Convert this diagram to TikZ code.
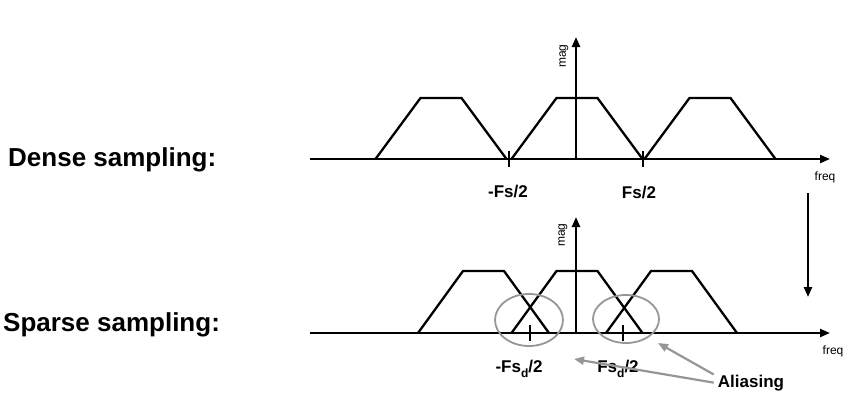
\documentclass[tikz,border=0pt]{standalone}
\usepackage{fontspec}
\setmainfont{Liberation Sans}
\usepackage{xcolor}
\usetikzlibrary{arrows.meta}
\definecolor{ringgray}{RGB}{150,150,150}
\newcommand{\dsub}{\raisebox{-0.3em}{\fontsize{12}{12}\selectfont d}}
\tikzset{
  axisline/.style={line width=2.3pt,-{Triangle[length=10pt,width=8pt]}},
  specline/.style={line width=2.3pt,line join=round},
  tickline/.style={line width=2.6pt},
  ring/.style={draw=ringgray,line width=1.8pt},
  aliasarrow/.style={draw=ringgray,line width=2.2pt,-{Triangle[length=10pt,width=8pt]}},
  biglabel/.style={inner sep=0pt,font=\fontsize{26}{30}\selectfont\bfseries},
  freqlabel/.style={inner sep=0pt,font=\fontsize{17}{20}\selectfont\bfseries},
  axislabel/.style={inner sep=0pt,font=\fontsize{12}{14}\selectfont}
}
\begin{document}
\begin{tikzpicture}[x=1pt,y=-1pt]
\useasboundingbox (0,0) rectangle (849,410);

\node[biglabel, anchor=base west] (dense) at (8,166) {Dense sampling:};
\node[biglabel, anchor=base west] (sparse) at (3,331) {Sparse sampling:};

\coordinate (ax1l) at (310,159); \coordinate (ax1r) at (830,159); %top freq axis
\coordinate (m1b) at (576,159); \coordinate (m1t) at (576,37); %top mag axis
\draw[axisline] (ax1l) -- (ax1r);
\draw[axisline] (m1b) -- (m1t);
\node[axislabel, rotate=90] (mag1) at (564,56) {mag};
\node[axislabel] (freq1) at (825,177) {freq};

\draw[specline] (375.5,159) -- (420.5,98) -- (461.5,98) -- (506.5,159); %1
\draw[specline] (511.5,159) -- (556.5,98) -- (597.5,98) -- (642.5,159); %2
\draw[specline] (644.5,159) -- (689.5,98) -- (730.5,98) -- (775.5,159); %3
\draw[tickline] (509,151) -- (509,167);
\draw[tickline] (643,151) -- (643,167);
\node[freqlabel, anchor=base] (fsneg) at (508,197) {-Fs/2};
\node[freqlabel, anchor=base] (fspos) at (639,198) {Fs/2};

\coordinate (dn1) at (808,193); \coordinate (dn2) at (808,297); %dense to sparse
\draw[axisline] (dn1) -- (dn2);
%%%%%%%%%%%%%%%%%%%%%%%%%%%%%%%%%%%%%%%%%%%%%%%%%%%%%%%%%%%%%%%%%%%%%%%%%%%%%%%%%%%%
\coordinate (ax2l) at (310,333); \coordinate (ax2r) at (830,333); %bottom freq axis
\coordinate (m2b) at (576,333); \coordinate (m2t) at (576,217); %bottom mag axis
\draw[axisline] (ax2l) -- (ax2r);
\draw[axisline] (m2b) -- (m2t);
\node[axislabel, rotate=90] (mag2) at (563,235) {mag};
\node[axislabel] (freq2) at (833,351) {freq};

\draw[specline] (418,333) -- (463,271) -- (504,271) -- (549,333); %1
\draw[specline] (511.5,333) -- (556.5,271) -- (597.5,271) -- (642.5,333); %2
\draw[specline] (606,333) -- (651,271) -- (692,271) -- (737,333); %3
\draw[tickline] (530,325) -- (530,341);
\draw[tickline] (623,325) -- (623,341);

\draw[ring] (529,320) ellipse [x radius=34pt, y radius=26pt]; %overlap left
\draw[ring] (626,319) ellipse [x radius=33pt, y radius=24pt]; %overlap right

\node[freqlabel, anchor=base] (fsdneg) at (519,372) {-Fs\dsub/2};
\node[freqlabel, anchor=base] (fsdpos) at (618,372) {Fs\dsub/2};
\node[freqlabel, anchor=base] (alias) at (751,387) {Aliasing};

\coordinate (ar1) at (658,343); \coordinate (ar2) at (574,359);
\draw[aliasarrow] ([xshift=-4pt]alias.north west) -- (ar1);
\draw[aliasarrow] ([xshift=-4pt]alias.west) -- (ar2);
\end{tikzpicture}
\end{document}
